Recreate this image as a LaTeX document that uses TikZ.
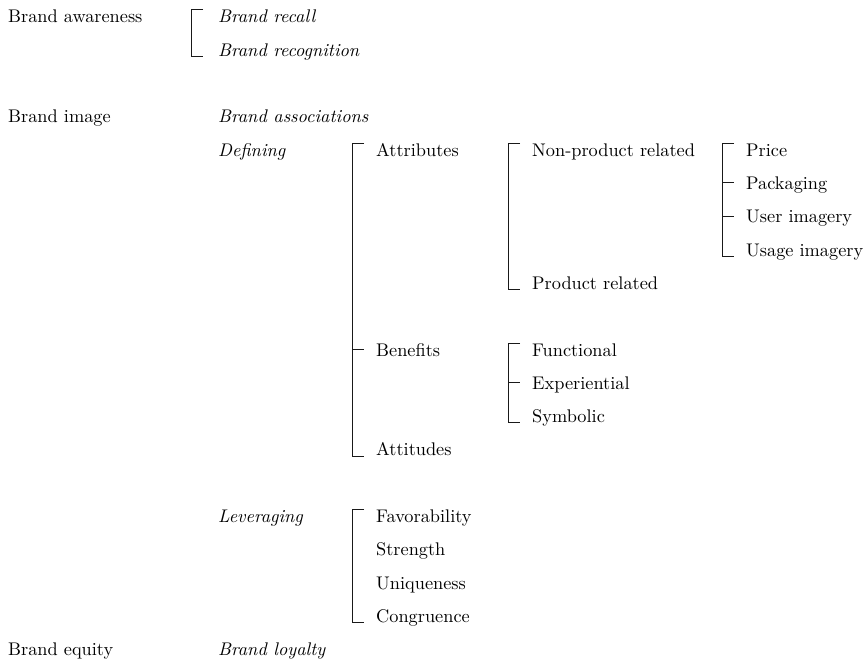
\documentclass[tikz,border=0pt]{standalone}
\usepackage{fontspec}
\setmainfont{lmroman10-regular.otf}[ItalicFont=lmroman10-italic.otf]
\usetikzlibrary{calc}
% bracket joining a column of labels: #1 first label, #2 last label, #3 gap from text to spine
\newcommand\treebrk[3]{%
  \draw[bk] ($(#1.base west)+(-#3+12,-13)$) -| ($(#2.base west)+(-#3,0)$) -- ++(12,0);}
% short branch to a label in the middle of a bracket
\newcommand\midtick[2]{%
  \draw[bk] ($(#1.base west)+(-#2,-6.5)$) -- ++(12,0);}
\begin{document}
\begin{tikzpicture}[x=1pt,y=-1pt,
  lbl/.style={anchor=base west,inner sep=0pt,text=black,font=\fontsize{18.3}{20}\selectfont},
  ilbl/.style={lbl,font=\fontsize{18.3}{20}\selectfont\itshape},
  bk/.style={line width=0.9pt,black!90}]
\useasboundingbox (0,0) rectangle (868,665);
\def\rs{33.33}
\def\rz{22.7}

% level 0
\node[lbl] (aware)  at (8,{\rz+0*\rs}) {Brand awareness};
\node[lbl] (image)  at (8,{\rz+3*\rs}) {Brand image};
\node[lbl] (equity) at (8,{\rz+19*\rs}) {Brand equity};

% level 1
\node[ilbl] (recall) at (218,{\rz+0*\rs}) {Brand recall};
\node[ilbl] (recog)  at (218,{\rz+1*\rs}) {Brand recognition};
\node[ilbl] (assoc)  at (218,{\rz+3*\rs}) {Brand associations};
\node[ilbl] (defin)  at (218,{\rz+4*\rs}) {Defining};
\node[ilbl] (lever)  at (218,{\rz+15*\rs}) {Leveraging};
\node[ilbl] (loyal)  at (218,{\rz+19*\rs}) {Brand loyalty};

% level 2
\node[lbl] (attr)  at (376,{\rz+4*\rs}) {Attributes};
\node[lbl] (bene)  at (376,{\rz+10*\rs}) {Benefits};
\node[lbl] (atti)  at (376,{\rz+13*\rs}) {Attitudes};
\node[lbl] (favo)  at (376,{\rz+15*\rs}) {Favorability};
\node[lbl] (stre)  at (376,{\rz+16*\rs}) {Strength};
\node[lbl] (uniq)  at (376,{\rz+17*\rs}) {Uniqueness};
\node[lbl] (cong)  at (376,{\rz+18*\rs}) {Congruence};

% level 3
\node[lbl] (nonp)  at (532,{\rz+4*\rs}) {Non-product related};
\node[lbl] (prod)  at (532,{\rz+8*\rs}) {Product related};
\node[lbl] (func)  at (532,{\rz+10*\rs}) {Functional};
\node[lbl] (expe)  at (532,{\rz+11*\rs}) {Experiential};
\node[lbl] (symb)  at (532,{\rz+12*\rs}) {Symbolic};

% level 4
\node[lbl] (price) at (746,{\rz+4*\rs}) {Price};
\node[lbl] (pack)  at (746,{\rz+5*\rs}) {Packaging};
\node[lbl] (user)  at (746,{\rz+6*\rs}) {User imagery};
\node[lbl] (usage) at (746,{\rz+7*\rs}) {Usage imagery};

% brackets
\treebrk{recall}{recog}{27}
\treebrk{attr}{atti}{24}
\midtick{bene}{24}
\treebrk{favo}{cong}{24}
\treebrk{nonp}{prod}{24}
\treebrk{func}{symb}{24}
\midtick{expe}{24}
\treebrk{price}{usage}{24}
\midtick{pack}{24}
\midtick{user}{24}
\end{tikzpicture}
\end{document}
